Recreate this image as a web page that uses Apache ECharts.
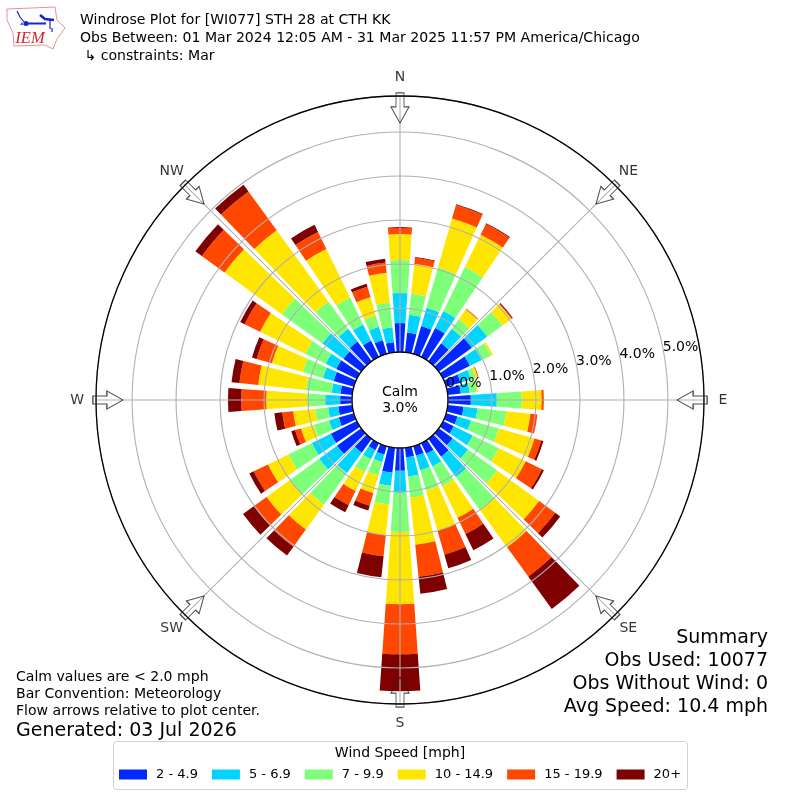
<!DOCTYPE html>
<html><head><meta charset="utf-8">
<style>html,body{margin:0;padding:0;background:#fff}#c{width:800px;height:800px}</style>
<script src="https://cdn.jsdelivr.net/npm/echarts@6/dist/echarts.min.js"></script>
</head><body><div id="c"></div>
<script>
const directions = [0,10,20,30,40,50,60,70,80,90,100,110,120,130,140,150,160,170,180,190,200,210,220,230,240,250,260,270,280,290,300,310,320,330,340,350];
const speedBins = ['2 - 4.9','5 - 6.9','7 - 9.9','10 - 14.9','15 - 19.9','20+'];
const binColors = ['#0028ff','#00d4ff','#7dff7a','#ffe600','#ff4700','#7f0000'];
const bin2to5 = [.66,.45,.66,.73,.5,.93,.68,.34,.3,.52,.36,.27,.27,.39,.5,.27,.23,.22,.52,.57,.2,.18,.39,.68,.66,.36,.32,.27,.27,.48,.52,.5,.55,.41,.32,.23];
const bin5to7 = [.68,.41,.43,.43,.41,.43,.3,.25,.2,.59,.32,.32,.48,.43,.57,.32,.34,.44,.5,.3,.18,.23,.57,.5,.48,.23,.23,.34,.2,.25,.27,.59,.36,.41,.32,.34];
const bin7to10 = [.75,.48,.95,1.11,.27,.43,.23,.11,.16,.57,.66,.66,.66,.82,.93,.5,.48,.48,.89,.43,.32,.32,.89,.82,.59,.36,.3,.41,.59,.48,.52,1.14,.77,.68,.27,.57];
const bin10to15 = [.59,.68,1.16,.82,.27,.25,.05,.05,.03,.45,.55,.84,.68,1.18,1.05,.8,.95,1.08,1.64,.7,.41,.48,.7,.66,.52,.3,.5,.93,1.09,.73,1.14,1.61,2.0,1.23,.43,.68];
const bin15to20 = [.16,.14,.32,.27,.02,.02,0,.02,0,.05,.16,.16,.41,.45,.82,.41,.57,.73,1.14,.48,.3,.36,.48,.36,.36,.14,.25,.57,.43,.36,.39,.64,1.09,.43,.25,.23];
const bin20plus = [0,.02,.02,.02,0,.02,0,0,0,0,0,.05,.05,.14,.91,.41,.32,.39,.84,.48,.11,.18,.25,.3,.11,.09,.18,.3,.18,.11,.11,.18,.19,.18,.07,.09];
const binValues = [bin2to5,bin5to7,bin7to10,bin10to15,bin15to20,bin20plus];
const compassAngles = [0,45,90,135,180,225,270,315];
const compassLabels = ['N','NE','E','SE','S','SW','W','NW'];
const compassLabelRadius = 6.25;
const arrowRadius = 5.55;
const titleLines = ['Windrose Plot for [WI077] STH 28 at CTH KK','Obs Between: 01 Mar 2024 12:05 AM - 31 Mar 2025 11:57 PM America/Chicago',' \u21B3 constraints: Mar'];
const noteLines = ['Calm values are < 2.0 mph','Bar Convention: Meteorology','Flow arrows relative to plot center.'];
const generated = 'Generated: 03 Jul 2026';
const summaryLines = ['Summary','Obs Used: 10077','Obs Without Wind: 0','Avg Speed: 10.4 mph'];
const calmLines = ['Calm','3.0%'];
const legendTitle = 'Wind Speed [mph]';
const radiusMax = 5.82;

const FONT = '"DejaVu Sans"';
const polarBase = {center:[400,400], radius:[48,304]};
const hiddenRadius = {min:0,max:radiusMax,interval:1,axisLine:{show:false},axisTick:{show:false},axisLabel:{show:false},splitLine:{show:false}};
const GRID = '#b0b0b0';

const txt = (x,y,text,size,align,extra) => ({type:'text',x,y,z:20,silent:true,style:Object.assign({text,fontFamily:FONT,fontSize:size,fill:'#000',align:align||'left',verticalAlign:'middle'},extra||{})});

const graphics = [];
titleLines.forEach((t,i)=>graphics.push(txt(80,20+i*18,t,14.07)));
noteLines.forEach((t,i)=>graphics.push(txt(16,677+i*17,t,14.07)));
graphics.push(txt(16,731,generated,19));
const sumY=[638,661,684,707];
summaryLines.forEach((t,i)=>graphics.push(txt(768,sumY[i],t,19,'right')));
calmLines.forEach((t,i)=>graphics.push(txt(400,392+i*16,t,14,'center')));
graphics.push({type:'rect',z:1,shape:{x:113.5,y:741.5,width:574,height:48,r:3},style:{fill:'#fff',stroke:'#d0d0d0',lineWidth:1}});
graphics.push(txt(400,753,legendTitle,14,'center'));
// logo
const logoPts=[[7,9],[55,7],[57,20],[65,28],[57,39],[53,49],[45,45],[14,46],[13,33],[7,20]];
graphics.push({type:'polygon',z:20,shape:{points:logoPts},style:{fill:'none',stroke:'#ec8f98',lineWidth:1}});
[[[25,23.5],[46,23.5]],[[40,15],[45,19],[54,20]],[[17,11],[20,17],[24,22]],[[50,19],[50,29]],[[52,28],[52,32]]].forEach((p,i)=>graphics.push({type:'polyline',z:21,shape:{points:p},style:{stroke:'#1a22cc',lineWidth:i==0?2:(i==1?2.5:1.2),fill:'none'}}));
graphics.push({type:'circle',z:21,shape:{cx:26,cy:23.5,r:2.5},style:{fill:'#1a22cc'}});
graphics.push({type:'polygon',z:21,shape:{points:[[20,25],[22,22],[24,25]]},style:{fill:'#5a60dd'}});
graphics.push(txt(30,39,'IEM',16.5,'center',{fontFamily:'"Liberation Serif"',fontStyle:'italic',fill:'#d8232a'}));

const arrowPath='path://M5,0H13V14H18L9,30L0,14H5Z';
const barSeries = speedBins.map((name,i)=>({
  name,type:'bar',coordinateSystem:'polar',polarIndex:0,stack:'wind',barCategoryGap:'20%',
  itemStyle:{color:binColors[i]},data:binValues[i],silent:true,z:2
}));
const arrows = {type:'scatter',coordinateSystem:'polar',polarIndex:1,silent:true,z:12,
  symbol:arrowPath,symbolSize:[18,30],symbolRotate:(v)=>-v[1],
  itemStyle:{color:'rgba(255,255,255,0)',borderColor:'#222',borderWidth:1.1},
  data:compassAngles.map(a=>[arrowRadius,a])};
const compassText = {type:'scatter',coordinateSystem:'polar',polarIndex:1,silent:true,z:12,clip:false,
  symbolSize:1,itemStyle:{color:'rgba(255,255,255,0)'},
  label:{show:true,position:'inside',color:'#000',fontFamily:FONT,fontSize:14,formatter:p=>compassLabels[p.dataIndex]},
  data:compassAngles.map(a=>[compassLabelRadius,a])};

const option = {
  animation:false,backgroundColor:'#fff',
  polar:[Object.assign({},polarBase),Object.assign({},polarBase),Object.assign({},polarBase)],
  angleAxis:[
    {polarIndex:0,type:'category',data:directions,startAngle:95,boundaryGap:true,show:false},
    {polarIndex:1,type:'value',min:0,max:360,interval:45,startAngle:90,z:10,
      axisLine:{lineStyle:{color:'#000',width:1.3}},axisTick:{show:false},axisLabel:{show:false},
      splitLine:{show:true,lineStyle:{color:GRID,width:1.1}}},
    {polarIndex:2,type:'value',min:0,max:360,startAngle:9.6,show:false}
  ],
  radiusAxis:[
    Object.assign({polarIndex:0},hiddenRadius),
    Object.assign({},hiddenRadius,{polarIndex:1,z:10,splitLine:{show:true,lineStyle:{color:GRID,width:1.1}}}),
    Object.assign({},hiddenRadius,{polarIndex:2,z:11,axisLabel:{show:true,showMaxLabel:false,margin:8.5,align:'left',verticalAlign:'middle',rotate:0,color:'#000',fontFamily:FONT,fontSize:14,
      formatter:v=>v.toFixed(1)+'%'}})
  ],
  legend:{left:119,top:768,padding:0,itemWidth:28,itemHeight:10,itemGap:14,icon:'rect',z:20,
    data:speedBins,selectedMode:false,
    textStyle:{fontFamily:FONT,fontSize:13,color:'#000',padding:[0,0,0,4]}},
  series:barSeries.concat([arrows,compassText]),
  graphic:graphics
};
const chart = echarts.init(document.getElementById('c'),null,{renderer:'canvas'});
chart.setOption(option);
</script></body></html>
